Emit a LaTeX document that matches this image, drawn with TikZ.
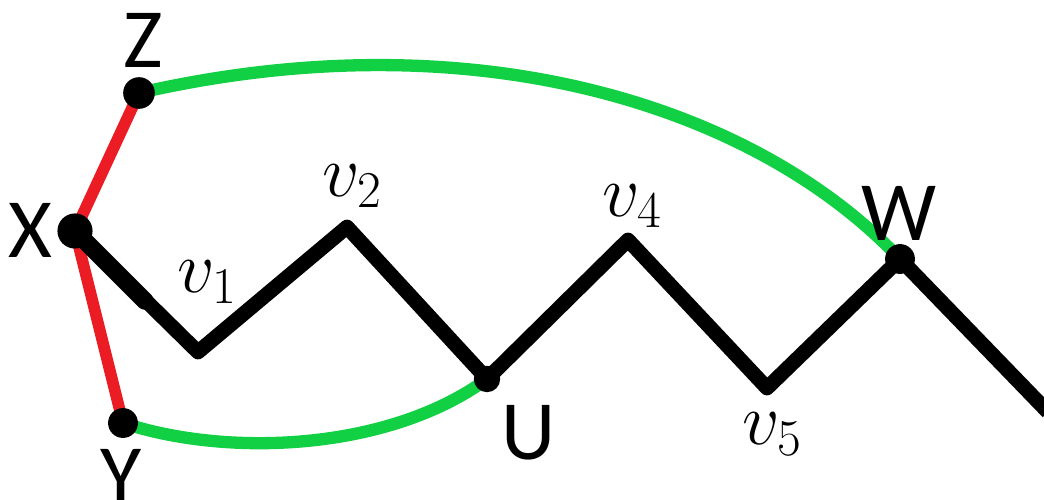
\RequirePackage{fix-cm}
\documentclass[tikz,border=0pt]{standalone}
\usepackage{fontspec}
\setsansfont{Carlito}
\begin{document}
\begin{tikzpicture}[x=0.02cm,y=-0.02cm,
  dot/.style={circle,fill=black,inner sep=0pt,minimum size=#1},
  lbl/.style={font=\sffamily\fontsize{48}{50}\selectfont,inner sep=0pt},
  mlbl/.style={font=\fontsize{42}{44}\selectfont,inner sep=0pt},
  blk/.style={line width=8.4pt,black,line join=round},
  red/.style={line width=6.6pt,color={rgb,255:red,235;green,28;blue,36}},
  grn/.style={line width=7pt,color={rgb,255:red,18;green,208;blue,68}}]
\useasboundingbox (0,0) rectangle (1044,500);
% vertices
\coordinate (X) at (75,231);
\coordinate (Z) at (139,93);
\coordinate (Y) at (123,423);
\coordinate (v1) at (198,352);
\coordinate (v2) at (347,227);
\coordinate (U) at (487,379);
\coordinate (v4) at (628,240);
\coordinate (v5) at (767,388);
\coordinate (W) at (900,259);
\coordinate (E) at (1048,412);
\coordinate (Xt) at (145,301);
% green curves
\draw[grn] (Z) .. controls (480,15) and (760,110) .. (W);
\draw[grn] (Y) .. controls (230,458) and (390,450) .. (U);
% red edges
\draw[red] (Z) -- (X) -- (Y);
% black path
\draw[blk] (X) -- (v1) -- (v2) -- (U) -- (v4) -- (v5) -- (W) -- (E);
\draw[blk,line width=10pt,line cap=round] (X) -- (Xt);
% dots
\node[dot=20pt] (nX) at (X) {};
\node[dot=18pt] (nZ) at (Z) {};
\node[dot=17pt] (nY) at (Y) {};
\node[dot=15pt] (nU) at (U) {};
\node[dot=17pt] (nW) at (W) {};
% labels
\node[lbl] (lZ) at (143,40) {Z};
\node[lbl] (lX) at (30,230) {X};
\node[lbl] (lY) at (121,476) {Y};
\node[lbl] (lU) at (529,433) {U};
\node[lbl] (lW) at (899,213) {W};
\node[mlbl] (l1) at (207,282) {$v_1$};
\node[mlbl] (l2) at (352,186) {$v_2$};
\node[mlbl] (l4) at (632,206) {$v_4$};
\node[mlbl] (l5) at (772,434) {$v_5$};
\end{tikzpicture}
\end{document}
